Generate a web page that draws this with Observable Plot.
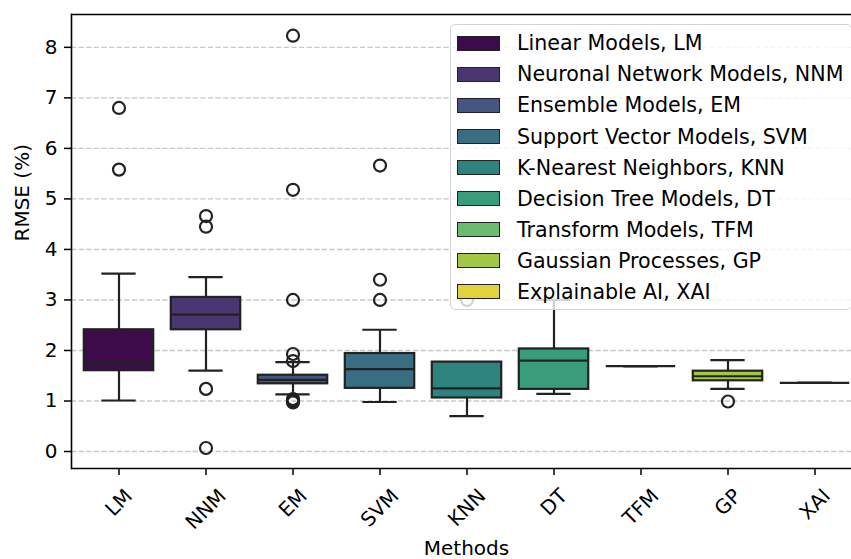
<!DOCTYPE html>
<html><head><meta charset="utf-8">
<script src="https://cdn.jsdelivr.net/npm/d3@7"></script>
<script src="https://cdn.jsdelivr.net/npm/@observablehq/plot@0.6"></script>
<style>
html,body{margin:0;padding:0;background:#fff;}
#wrap{position:relative;width:851px;height:559px;overflow:hidden;font-family:"DejaVu Sans";}
#legend{position:absolute;left:450px;top:24px;width:402px;height:286px;background:rgba(255,255,255,0.8);border:1.3px solid #d4d4d4;border-radius:5px;box-sizing:border-box;}
.sw{position:absolute;left:6px;width:43px;height:15px;border:1.7px solid #222;box-sizing:border-box;}
.lab{position:absolute;left:66px;font-size:20.6px;line-height:24px;white-space:nowrap;color:#000;}
</style>
</head><body>
<div id="wrap"></div>
<script>
const methods = ["LM", "NNM", "EM", "SVM", "KNN", "DT", "TFM", "GP", "XAI"];
const legendLabels = [
  "Linear Models, LM",
  "Neuronal Network Models, NNM",
  "Ensemble Models, EM",
  "Support Vector Models, SVM",
  "K-Nearest Neighbors, KNN",
  "Decision Tree Models, DT",
  "Transform Models, TFM",
  "Gaussian Processes, GP",
  "Explainable AI, XAI"
];
const whiskerLow  = [1.01, 1.60, 1.13, 0.98, 0.70, 1.14, 1.69, 1.24, 1.36];
const q1          = [1.60, 2.41, 1.34, 1.25, 1.06, 1.23, 1.69, 1.40, 1.36];
const median      = [1.75, 2.71, 1.42, 1.63, 1.25, 1.80, 1.69, 1.49, 1.36];
const q3          = [2.41, 3.05, 1.51, 1.94, 1.77, 2.03, 1.69, 1.59, 1.36];
const whiskerHigh = [3.52, 3.45, 1.77, 2.41, 1.77, 3.00, 1.69, 1.81, 1.36];
const outlierMethod = ["LM","LM","NNM","NNM","NNM","NNM","EM","EM","EM","EM","EM","EM","EM","EM","EM","SVM","SVM","SVM","KNN","GP"];
const outlierValue  = [6.80, 5.58, 4.66, 4.45, 1.24, 0.07, 8.23, 5.18, 3.00, 1.93, 1.79, 1.04, 1.01, 0.99, 0.97, 5.66, 3.40, 3.00, 3.00, 0.99];
const yTicks = [0, 1, 2, 3, 4, 5, 6, 7, 8];
const yDomain = [-0.336, 8.65];

const boxes = methods.map((m, i) => ({method: m, lo: whiskerLow[i], q1: q1[i], med: median[i], q3: q3[i], hi: whiskerHigh[i]}));
const outliers = outlierMethod.map((m, i) => ({method: m, value: outlierValue[i]}));
const colorOf = m => { const c = d3.hsl(d3.interpolateViridis(methods.indexOf(m) / (methods.length - 1))); c.s *= 0.75; return c.formatHex(); };

const W = 851, H = 559;
const xRange = [71, 861];
const band = (xRange[1] - xRange[0]) / methods.length;
const boxInset = band * 0.1;
const capInset = band * 0.3;
const edge = "#222222";
const lw = 2.2;
const fs = 20;

const ctx = document.createElement("canvas").getContext("2d");
ctx.font = fs + "px 'DejaVu Sans'";
const tickLabels = methods.map(m => {
  const w = ctx.measureText(m).width;
  const h = fs * 0.73;
  return Plot.text([m], {x: d => d, frameAnchor: "bottom", rotate: -45, fontSize: fs, textAnchor: "middle", lineAnchor: "middle", dy: 19 + (w + h) * 0.3536, fill: "#000"});
});

const chart = Plot.plot({
  width: W, height: H,
  marginLeft: 71, marginRight: 0, marginTop: 14, marginBottom: 91,
  style: {fontFamily: "DejaVu Sans", background: "white", color: "#000", overflow: "hidden"},
  x: {type: "band", domain: methods, range: xRange, padding: 0, axis: null},
  y: {domain: yDomain, axis: null},
  color: {type: "identity"},
  marks: [
    Plot.gridY(yTicks, {stroke: "#b0b0b0", strokeOpacity: 0.7, strokeWidth: 1.4, strokeDasharray: "5.3,2.3"}),
    Plot.ruleX(boxes, {x: "method", y1: "lo", y2: "q1", stroke: edge, strokeWidth: lw}),
    Plot.ruleX(boxes, {x: "method", y1: "q3", y2: "hi", stroke: edge, strokeWidth: lw}),
    Plot.tickY(boxes, {x: "method", y: "lo", insetLeft: capInset, insetRight: capInset, stroke: edge, strokeWidth: lw}),
    Plot.tickY(boxes, {x: "method", y: "hi", insetLeft: capInset, insetRight: capInset, stroke: edge, strokeWidth: lw}),
    Plot.barY(boxes, {x: "method", y1: "q1", y2: "q3", fill: d => colorOf(d.method), stroke: edge, strokeWidth: lw, insetLeft: boxInset, insetRight: boxInset}),
    Plot.tickY(boxes, {x: "method", y: "med", insetLeft: boxInset, insetRight: boxInset, stroke: edge, strokeWidth: lw}),
    Plot.dot(outliers, {x: "method", y: "value", r: 6, stroke: edge, strokeWidth: lw, fill: "none"}),
    Plot.ruleY([yDomain[0]], {stroke: "#000", strokeWidth: 1.6}),
    Plot.ruleY([yDomain[1]], {stroke: "#000", strokeWidth: 1.6}),
    Plot.frame({anchor: "left", stroke: "#000", strokeWidth: 1.6}),
    Plot.axisY(yTicks, {tickSize: 7, tickPadding: 7, fontSize: fs, strokeWidth: 1.5, label: null, fill: "#000", tickFormat: d => String(d)}),
    Plot.axisX({tickSize: 7, strokeWidth: 1.5, tickFormat: () => "", label: null}),
    ...tickLabels,
    Plot.text(["RMSE (%)"], {frameAnchor: "left", rotate: -90, dx: -49, fontSize: fs, fill: "#000"}),
    Plot.text(["Methods"], {frameAnchor: "bottom", dx: 5, dy: 80, fontSize: fs, lineAnchor: "middle", fill: "#000"})
  ]
});
const wrap = document.getElementById("wrap");
wrap.appendChild(chart);

const legend = document.createElement("div");
legend.id = "legend";
legendLabels.forEach((lab, i) => {
  const cy = 18 + 31.1 * i;
  const sw = document.createElement("div");
  sw.className = "sw";
  sw.style.top = (cy - 7.5) + "px";
  sw.style.background = colorOf(methods[i]);
  const t = document.createElement("div");
  t.className = "lab";
  t.style.top = (cy - 11.8) + "px";
  t.textContent = lab;
  legend.appendChild(sw);
  legend.appendChild(t);
});
wrap.appendChild(legend);
</script>
</body></html>
